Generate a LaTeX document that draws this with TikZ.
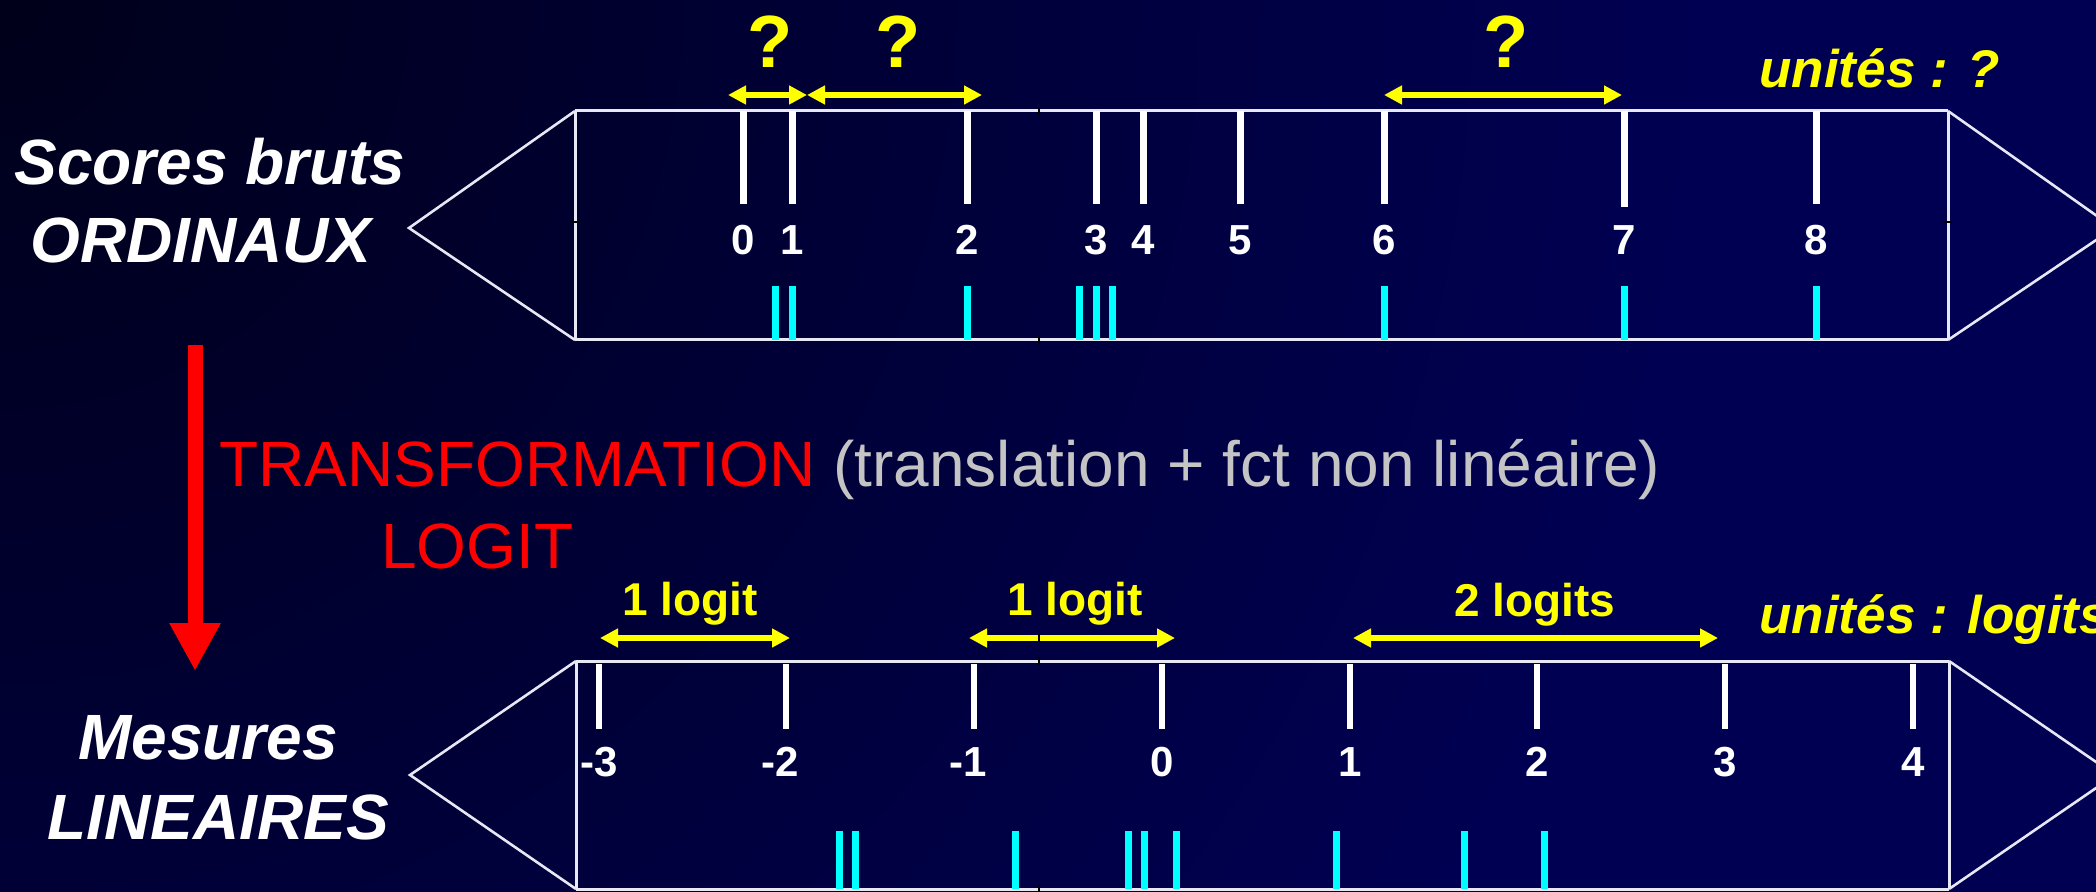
\documentclass[tikz,border=0pt]{standalone}
\usepackage{fontspec}
\setmainfont{Liberation Sans}
\usetikzlibrary{arrows.meta}
\definecolor{navy}{RGB}{0,0,82}
\definecolor{navydark}{RGB}{0,0,26}
\definecolor{rulerline}{RGB}{232,232,244}
\definecolor{tickcyan}{RGB}{0,255,255}
\definecolor{ylw}{RGB}{255,255,0}
\definecolor{lgray}{RGB}{196,196,196}
\definecolor{tred}{RGB}{255,0,0}
\begin{document}
\begin{tikzpicture}[x=0.5pt,y=-0.5pt,
  ruler/.style={draw=rulerline, line width=1.5pt, line join=miter},
  wtick/.style={draw=white, line width=3.5pt},
  ctick/.style={draw=tickcyan, line width=3.5pt},
  yarrow/.style={draw=ylw, line width=3pt, {Triangle[length=9pt,width=9pt]}-{Triangle[length=9pt,width=9pt]}},
  notch/.style={draw=black, line width=0.6pt},
  num/.style={text=white, font=\fontsize{21pt}{21pt}\selectfont\bfseries, anchor=base, inner sep=0pt},
  side/.style={text=white, font=\fontsize{32pt}{32pt}\selectfont\bfseries\itshape, anchor=base, inner sep=0pt},
  qmark/.style={text=ylw, font=\fontsize{37pt}{37pt}\selectfont\bfseries, anchor=base, inner sep=0pt},
  unit/.style={text=ylw, font=\fontsize{26.5pt}{26.5pt}\selectfont\bfseries\itshape, anchor=base west, inner sep=0pt},
  logit/.style={text=ylw, font=\fontsize{23pt}{23pt}\selectfont\bfseries, anchor=base, inner sep=0pt},
  big/.style={font=\fontsize{32pt}{32pt}\selectfont, anchor=base west, inner sep=0pt}
]
\useasboundingbox (0,0) rectangle (2096,892);
% background
\fill[navy] (0,0) rectangle (2096,892);
\begin{scope}
\clip (0,0) rectangle (2096,892);
\shade[inner color=navydark, outer color=navy] (0,0) circle (1700);
\end{scope}

% ---------- top ruler ----------
\draw[ruler] (575,111) -- (1948,111) (575,340) -- (1948,340)
  (575,111) -- (575,340) (1948,111) -- (1948,340);
\draw[ruler, line width=1.3pt] (575,111) -- (409,228) -- (575,340);
\draw[ruler, line width=1.3pt] (1948,111) -- (2114,228) -- (1948,340);

\foreach \x/\l in {743/0,792/1,967/2,1096/3,1143/4,1240/5,1384/6,1816/8}{
  \draw[wtick] (\x,111) -- (\x,204);
  \node[num] (t\l) at (\x,255) {\l};
}
\draw[wtick] (1624,111) -- (1624,207);
\node[num] (t7) at (1624,255) {7};
\foreach \x in {775,792,967,1079,1096,1112,1384,1624,1816}{
  \draw[ctick] (\x,286) -- (\x,340);
}

% yellow arrows top
\coordinate (a1) at (728,95); \coordinate (a2) at (807,95);
\coordinate (a3) at (982,95);
\coordinate (a4) at (1384,95); \coordinate (a5) at (1622,95);
\draw[yarrow] (a1) -- (a2);
\draw[yarrow] (a2) -- (a3);
\draw[yarrow] (a4) -- (a5);
\node[qmark] (q1) at (770,68) {?};
\node[qmark] (q2) at (898,68) {?};
\node[qmark] (q3) at (1506,68) {?};
\node[unit] (u1) at (1759,88) {unités : ?};

\node[side] (scores) at (210,185) {Scores bruts};
\node[side] (ordin) at (201,263) {ORDINAUX};

% ---------- transformation ----------
\coordinate (rtop) at (195,345);
\coordinate (rbot) at (195,671);
\draw[tred, line width=7.5pt, -{Triangle[length=24pt,width=24pt]}] (rtop) -- (rbot);
\node[big] (transf) at (219,487) {\textcolor{tred}{TRANSFORMATION} \textcolor{lgray}{(translation + fct non linéaire)}};
\node[big, text=tred] (logitw) at (381,568) {LOGIT};

% ---------- bottom ruler ----------
\draw[ruler] (576,661) -- (1949,661) (576,889) -- (1949,889)
  (576,661) -- (576,889) (1949,661) -- (1949,889);
\draw[ruler, line width=1.3pt] (576,661) -- (410,775) -- (576,889);
\draw[ruler, line width=1.3pt] (1949,661) -- (2115,775) -- (1949,889);

\foreach \x/\l/\s in {599/-3/0,786/-2/-6,974/-1/-6,1162/0/0,1350/1/0,1537/2/0,1725/3/0,1913/4/0}{
  \draw[wtick, line width=3pt] (\x,664) -- (\x,729);
  \node[num] at (\x+\s,776) {\l};
}
\foreach \x in {839,855,1015,1128,1144,1176,1336,1464,1544}{
  \draw[ctick] (\x,831) -- (\x,889);
}

\coordinate (b1) at (600,638); \coordinate (b2) at (790,638);
\coordinate (b3) at (969,638); \coordinate (b4) at (1175,638);
\coordinate (b5) at (1353,638); \coordinate (b6) at (1718,638);
\draw[yarrow] (b1) -- (b2);
\draw[yarrow] (b3) -- (b4);
\draw[yarrow] (b5) -- (b6);
\node[logit] (l1) at (690,615) {1 logit};
\node[logit] (l2) at (1075,615) {1 logit};
\node[logit] (l3) at (1535,616) {2 logits};
\node[unit] (u2) at (1759,633) {unités : logits};

\node[side] (mesures) at (208,759) {Mesures};
\node[side] (lineaires) at (218,839) {LINEAIRES};

% small dark notches
\foreach \y in {111,340,661,889,638}{
  \draw[notch] (1039,\y-4) -- (1039,\y+4);
}
\draw[notch] (571,222) -- (579,222);
\draw[notch] (1944,222) -- (1952,222);
\end{tikzpicture}
\end{document}
